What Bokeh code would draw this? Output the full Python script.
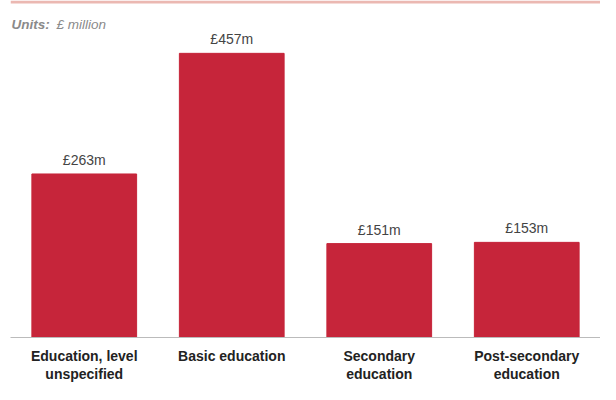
from bokeh.plotting import figure
from bokeh.models import Range1d, FactorRange, Label, BoxAnnotation, ColumnDataSource
from bokeh.core.properties import value
from bokeh.embed import file_html
from bokeh.resources import INLINE

categories = ["Education, level\nunspecified", "Basic education",
              "Secondary\neducation", "Post-secondary\neducation"]
values = [263, 457, 151, 153]
value_labels = ["£263m", "£457m", "£151m", "£153m"]

FONT = "Liberation Sans"
BAR = "#c6253a"

p = figure(width=600, height=384, x_range=FactorRange(*categories),
           y_range=Range1d(0, 542), output_backend="svg",
           toolbar_location=None, min_border_left=10, min_border_right=0,
           min_border_top=0, min_border_bottom=0)
p.x_range.range_padding = 0
p.background_fill_color = "white"
p.border_fill_color = "white"
p.outline_line_color = None
p.grid.visible = False
p.yaxis.visible = False

src = ColumnDataSource(dict(cat=categories, val=values, lab=value_labels))
p.vbar(x="cat", top="val", width=0.71, source=src, fill_color=BAR,
       line_color=BAR)
p.text(x="cat", y="val", text="lab", source=src, text_align="center",
       text_baseline="bottom", y_offset=-6, text_font=value(FONT),
       text_font_size="14px", text_color="#444444")

ax = p.xaxis[0]
ax.axis_line_color = "#bbbbbb"
ax.axis_line_width = 1
ax.major_tick_line_color = None
ax.minor_tick_line_color = None
ax.major_tick_out = 0
ax.major_tick_in = 0
ax.major_label_standoff = 10
ax.major_label_text_font = FONT
ax.major_label_text_font_style = "bold"
ax.major_label_text_font_size = "14px"
ax.major_label_text_color = "#222222"
ax.major_label_text_line_height = 1.15

# top decorative band
p.add_layout(BoxAnnotation(bottom=537, fill_color="#ebb8b2", fill_alpha=1,
                           line_color=None))

p.add_layout(Label(x=0.007, y=504, text="Units:", text_font=FONT,
                   text_font_style="bold italic", text_font_size="13.5px",
                   text_color="#8a8a8a", text_baseline="middle"))
p.add_layout(Label(x=0.007, y=504, x_offset=45, text="£ million", text_font=FONT,
                   text_font_style="italic", text_font_size="13.5px",
                   text_color="#8a8a8a", text_baseline="middle"))

open("out.html", "w").write(file_html(p, INLINE))
